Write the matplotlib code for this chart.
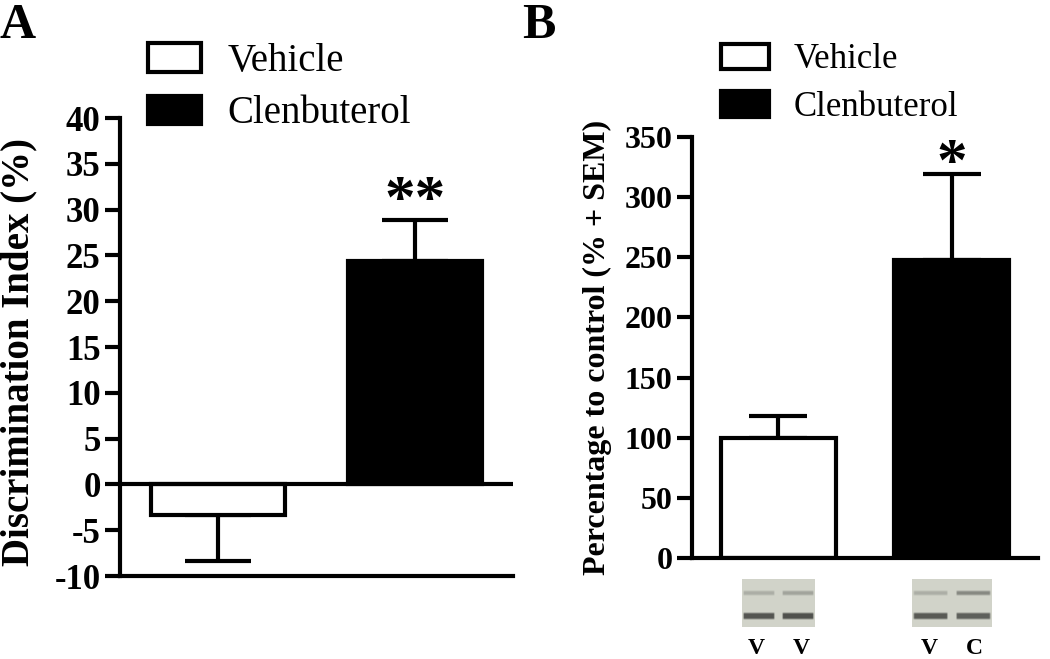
import numpy as np
import matplotlib
matplotlib.use("Agg")
import matplotlib.pyplot as plt
from matplotlib.patches import Patch

plt.rcParams['font.family'] = ['Liberation Serif', 'DejaVu Serif']

# Panel A data
groups = ["Vehicle", "Clenbuterol"]
di_mean = [-3.3, 24.4]
di_sem = [5.1, 4.5]
di_yticks = np.arange(-10, 41, 5)

# Panel B data
pct_mean = [100, 248]
pct_sem = [18, 71]
pct_yticks = np.arange(0, 351, 50)

# Western blot band strengths (top band, bottom band) for each lane
blot_lanes = [["V", "V"], ["V", "C"]]
blot_top = [[0.35, 0.45], [0.35, 0.70]]
blot_bottom = [[0.85, 0.88], [0.82, 0.78]]

fills = ["white", "black"]
LW = 3.0
BG = np.array([0.82, 0.83, 0.79])


def style_axis(ax, fs):
    for s in ["top", "right"]:
        ax.spines[s].set_visible(False)
    for s in ["left", "bottom"]:
        ax.spines[s].set_linewidth(LW)
    ax.tick_params(axis="y", length=11, width=LW, labelsize=fs, pad=3)
    ax.tick_params(axis="x", length=0, labelbottom=False)
    for t in ax.get_yticklabels():
        t.set_fontweight("bold")


def blot_image(top, bottom):
    rows, lane_w, gap = 24, 20, 3
    img = []
    for k, (t, b) in enumerate(zip(top, bottom)):
        lane = np.ones((rows, lane_w, 3)) * BG
        lane[6:8, 1:-1] = BG * (1 - 0.5 * t)
        lane[17:20, 1:-1] = BG * (1 - 0.7 * b)
        img.append(lane)
        if k < len(top) - 1:
            img.append(np.ones((rows, gap, 3)) * BG)
    return np.hstack(img)


fig = plt.figure(figsize=(10.5, 6.59), dpi=100)

# ---------- Panel A ----------
axA = fig.add_axes([0.1143, 0.1259, 0.3743, 0.695])
x = np.arange(len(groups))
for i in range(len(groups)):
    axA.bar(x[i], di_mean[i], width=0.68, color=fills[i], edgecolor="black",
            linewidth=LW, zorder=2)
    err = [[di_sem[i]], [0]] if di_mean[i] < 0 else [[0], [di_sem[i]]]
    axA.errorbar(x[i], di_mean[i], yerr=err, fmt="none", ecolor="black",
                 elinewidth=LW, capsize=24, capthick=LW, zorder=1)
axA.axhline(0, color="black", lw=LW, zorder=3)
axA.set_xlim(-0.5, 1.5)
axA.set_ylim(-10, 40)
axA.set_yticks(di_yticks)
axA.set_yticklabels([str(v) for v in di_yticks])
style_axis(axA, 25)
axA.set_ylabel("Discrimination Index (%)", fontsize=28, fontweight="bold")
axA.yaxis.set_label_coords(-0.21, 0.49)
axA.text(x[1], di_mean[1] + di_sem[1] + 1.9, "**", ha="center",
         va="center", fontsize=44, fontweight="bold")
fig.text(0.0, 0.995, "A", fontsize=36, fontweight="bold", va="top", ha="left")

handles = [Patch(facecolor=f, edgecolor="black", linewidth=LW) for f in fills]
fig.legend(handles, groups, loc="upper left", bbox_to_anchor=(0.141, 0.935),
           frameon=False, fontsize=28, handlelength=1.36, handleheight=0.75,
           handletextpad=0.68, labelspacing=0.4, borderpad=0,
           borderaxespad=0)

# ---------- Panel B ----------
axB = fig.add_axes([0.659, 0.1533, 0.3296, 0.6388])
for i in range(len(groups)):
    axB.bar(x[i], pct_mean[i], width=0.665, color=fills[i], edgecolor="black",
            linewidth=LW, zorder=2)
    axB.errorbar(x[i], pct_mean[i], yerr=[[0], [pct_sem[i]]], fmt="none",
                 ecolor="black", elinewidth=LW, capsize=21, capthick=LW,
                 zorder=1)
axB.set_xlim(-0.5, 1.5)
axB.set_ylim(0, 350)
axB.set_yticks(pct_yticks)
axB.set_yticklabels([str(v) for v in pct_yticks])
style_axis(axB, 23)
axB.set_ylabel("Percentage to control (% + SEM)", fontsize=23,
               fontweight="bold")
axB.yaxis.set_label_coords(-0.232, 0.5)
axB.text(x[1], pct_mean[1] + pct_sem[1] + 8, "*", ha="center",
         va="center", fontsize=44, fontweight="bold")
fig.text(0.497, 0.995, "B", fontsize=36, fontweight="bold", va="top",
         ha="left")

fig.legend(handles, groups, loc="upper left", bbox_to_anchor=(0.687, 0.934),
           frameon=False, fontsize=25, handlelength=1.36, handleheight=0.74,
           handletextpad=0.72, labelspacing=0.42, borderpad=0,
           borderaxespad=0)

# western blots under the bars
blot_w = [0.42, 0.46]
for i in range(len(groups)):
    bax = axB.inset_axes([x[i] - blot_w[i] / 2, -0.164, blot_w[i], 0.114],
                         transform=axB.get_xaxis_transform())
    bax.imshow(blot_image(blot_top[i], blot_bottom[i]), aspect="auto",
               interpolation="bilinear")
    bax.set_axis_off()
    for j, lab in enumerate(blot_lanes[i]):
        off = (j - 0.5) * 0.26
        axB.text(x[i] + off, -0.214, lab, transform=axB.get_xaxis_transform(),
                 ha="center", va="center", fontsize=17, fontweight="bold")

fig.savefig("out.png", dpi=100)
